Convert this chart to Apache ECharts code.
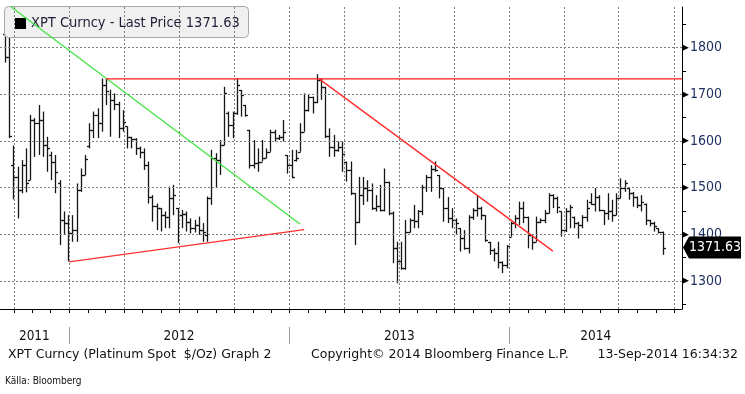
<!DOCTYPE html>
<html><head><meta charset="utf-8">
<script src="https://cdn.jsdelivr.net/npm/echarts@6/dist/echarts.min.js"></script>
<style>html,body{margin:0;padding:0;background:#fff}#c{width:745px;height:394px}</style>
</head><body><div id="c"></div><script>
// ---- data (weekly bars, week ending dates start at firstWeek) ----
const firstWeek = '2011-09-16';
const opens = [
1830,1780,1549,1523,1495,1549,1516,1645,1638,1645,
1591,1570,1555,1509,1430,1424,1402,1410,1495,1527,
1590,1624,1656,1638,1720,1700,1688,1680,1627,1631,
1609,1605,1584,1577,1549,1480,1460,1456,1441,1438,
1477,1456,1441,1443,1427,1413,1420,1409,1398,1477,
1563,1560,1591,1660,1634,1659,1709,1677,1624,1549,
1552,1556,1563,1577,1620,1606,1609,1570,1549,1560,
1577,1620,1666,1695,1684,1731,1716,1611,1588,1581,
1588,1556,1538,1488,1427,1484,1499,1495,1456,1460,
1452,1513,1445,1370,1342,1327,1406,1431,1428,1449,
1502,1523,1541,1527,1499,1456,1434,1430,1413,1392,
1370,1438,1452,1456,1441,1384,1367,1359,1340,1335,
1395,1424,1434,1456,1438,1399,1384,1427,1431,1445,
1484,1477,1449,1409,1449,1438,1424,1420,1438,1470,
1466,1481,1452,1445,1449,1441,1477,1499,1499,1488,
1481,1463,1466,1430,1424,1413,1406];
const highs = [
1870,1822,1590,1545,1559,1584,1656,1649,1677,1663,
1609,1577,1570,1516,1449,1441,1441,1509,1541,1570,
1638,1663,1670,1734,1734,1710,1702,1684,1666,1631,
1609,1606,1588,1584,1556,1484,1466,1456,1449,1502,
1506,1456,1452,1449,1434,1431,1438,1424,1481,1581,
1574,1602,1716,1663,1663,1734,1709,1677,1624,1602,
1584,1602,1584,1624,1624,1613,1645,1570,1581,1581,
1638,1702,1699,1695,1743,1734,1716,1627,1613,1599,
1599,1556,1556,1488,1523,1523,1516,1509,1484,1506,
1541,1513,1449,1384,1384,1431,1434,1463,1452,1506,
1527,1548,1556,1527,1499,1480,1456,1434,1413,1409,
1441,1456,1484,1459,1441,1384,1370,1384,1342,1377,
1427,1441,1470,1470,1438,1399,1438,1434,1452,1488,
1486,1481,1449,1456,1463,1438,1427,1441,1474,1488,
1499,1484,1452,1488,1474,1488,1520,1516,1499,1491,
1481,1484,1466,1431,1427,1413,1406];
const lows = [
1768,1606,1475,1434,1488,1490,1516,1566,1570,1566,
1534,1516,1488,1377,1399,1342,1384,1384,1491,1527,
1584,1606,1606,1620,1677,1609,1666,1606,1620,1584,
1584,1570,1563,1538,1466,1427,1409,1406,1413,1413,
1441,1381,1413,1406,1402,1404,1399,1384,1384,1463,
1499,1527,1591,1609,1606,1656,1652,1652,1541,1541,
1534,1556,1563,1577,1599,1602,1599,1530,1520,1556,
1577,1620,1663,1659,1681,1688,1606,1566,1566,1577,
1534,1513,1484,1377,1424,1463,1470,1452,1449,1449,
1449,1441,1338,1295,1324,1324,1404,1413,1413,1441,
1491,1491,1534,1477,1427,1424,1413,1399,1363,1367,
1359,1431,1438,1431,1384,1356,1342,1327,1317,1327,
1395,1413,1420,1424,1370,1367,1384,1424,1424,1445,
1456,1445,1395,1405,1413,1413,1391,1413,1427,1463,
1449,1449,1420,1431,1427,1441,1477,1491,1474,1459,
1456,1449,1420,1417,1406,1402,1356];
const closes = [
1780,1610,1523,1495,1549,1510,1645,1638,1645,1591,
1584,1555,1534,1430,1424,1402,1410,1495,1527,1562,
1624,1656,1638,1720,1706,1688,1680,1627,1641,1609,
1605,1584,1577,1549,1480,1460,1456,1441,1438,1477,
1484,1441,1443,1427,1413,1420,1409,1405,1477,1563,
1560,1591,1702,1634,1659,1720,1699,1656,1549,1552,
1556,1563,1577,1620,1606,1609,1620,1549,1522,1563,
1620,1666,1695,1684,1731,1716,1611,1588,1581,1588,
1573,1538,1488,1427,1484,1499,1495,1456,1460,1452,
1513,1445,1370,1342,1327,1406,1431,1428,1449,1502,
1523,1541,1538,1499,1456,1434,1430,1424,1392,1370,
1438,1452,1456,1441,1388,1367,1359,1340,1335,1374,
1424,1434,1456,1438,1399,1384,1427,1431,1445,1484,
1477,1459,1409,1449,1459,1424,1420,1438,1456,1466,
1481,1452,1445,1449,1441,1477,1499,1509,1488,1481,
1463,1470,1430,1424,1417,1406,1371.63];
const lastPrice = 1371.63;

// trend lines drawn on the chart [date, price]
const greenLine   = [['2011-09-24T12:00:00Z', 1889], ['2013-01-18T00:00:00Z', 1422]];
const supportLine = [['2011-12-31T14:00:00Z', 1341], ['2013-01-25T00:00:00Z', 1410]];
const resistLine  = [['2012-03-02T00:00:00Z', 1733], ['2014-10-14T07:00:00Z', 1733]];
const downLine    = [['2013-02-18T19:00:00Z', 1733], ['2014-03-14T00:00:00Z', 1364]];

// axes
const yTicks = [1300, 1400, 1500, 1600, 1700, 1800];
const yMinorTicks = [1250, 1350, 1450, 1550, 1650, 1750, 1850];
const yearLabels = ['2011', '2012', '2013', '2014'];
const yearLabelDates = ['2011-11-04', '2012-07-01', '2013-07-02', '2014-05-24'];
const yearBreaks = ['2012-01-01', '2013-01-01', '2014-01-01'];
const quarterStarts = ['2011-10-01','2012-01-01','2012-04-01','2012-07-01','2012-10-01',
  '2013-01-01','2013-04-01','2013-07-01','2013-10-01','2014-01-01','2014-04-01','2014-07-01','2014-10-01'];
const xMin = Date.parse('2011-09-07T22:30:00Z');
const xMax = Date.parse('2014-10-14T07:00:00Z');

// ---- build ----
const DAY = 86400000;
const t0 = Date.parse(firstWeek);
const ohlc = opens.map((o, i) => [t0 + i * 7 * DAY, o, highs[i], lows[i], closes[i]]);
const monthTicks = [];
for (let y = 2011, m = 9; y < 2014 || (y === 2014 && m <= 9); m++) {
  if (m > 11) { m = 0; y++; }
  monthTicks.push(Date.UTC(y, m, 1));
}
const toPts = arr => arr.map(p => [Date.parse(p[0]), p[1]]);
const FONT = '"DejaVu Sans Condensed", "DejaVu Sans", sans-serif';
const FONT2 = '"DejaVu Sans", sans-serif';

function renderBar(params, api) {
  const t = api.value(0);
  const pO = api.coord([t, api.value(1)]);
  const pH = api.coord([t, api.value(2)]);
  const pL = api.coord([t, api.value(3)]);
  const pC = api.coord([t, api.value(4)]);
  const x = Math.round(pH[0]) + 0.5;
  const yo = Math.round(pO[1]) + 0.5, yc = Math.round(pC[1]) + 0.5;
  const st = { stroke: '#151515', lineWidth: 1.3 };
  return { type: 'group', children: [
    { type: 'line', shape: { x1: x, y1: pH[1], x2: x, y2: pL[1] }, style: st },
    { type: 'line', shape: { x1: x - 2.5, y1: yo, x2: x, y2: yo }, style: st },
    { type: 'line', shape: { x1: x, y1: yc, x2: x + 2.5, y2: yc }, style: st }
  ]};
}

function trend(data, color, w) {
  return { type: 'line', data: toPts(data), showSymbol: false, symbol: 'none', silent: true, clip: true,
    lineStyle: { color: color, width: w }, z: 10, animation: false };
}

const chart = echarts.init(document.getElementById('c'), null, { renderer: 'canvas' });
const option = {
  animation: false,
  backgroundColor: '#fff',
  grid: { left: 0, right: 63, top: 7, bottom: 85, containLabel: false, outerBoundsMode: 'none' },
  xAxis: [
    { type: 'value', min: xMin, max: xMax, scale: true,
      axisLine: { show: true, onZero: false, lineStyle: { color: '#000', width: 1 } },
      axisTick: { show: true, customValues: monthTicks, length: 4, lineStyle: { color: '#000' } },
      axisLabel: { show: false }, splitLine: { show: false } },
    { type: 'value', min: xMin, max: xMax, scale: true, position: 'bottom', offset: 18,
      axisLine: { show: false, onZero: false },
      axisTick: { show: true, customValues: yearBreaks.map(d => Date.parse(d)), length: 17, lineStyle: { color: '#999' } },
      axisLabel: { show: true, customValues: yearLabelDates.map(d => Date.parse(d)), margin: 2,
        formatter: v => { const k = yearLabelDates.findIndex(d => Date.parse(d) === v); return k >= 0 ? yearLabels[k] : ''; },
        color: '#111', fontSize: 13.5, fontFamily: FONT },
      splitLine: { show: false } }
  ],
  yAxis: {
    type: 'value', position: 'right', min: 1240, max: 1887,
    axisLine: { show: true, lineStyle: { color: '#000', width: 1 } },
    axisTick: { show: true, customValues: yMinorTicks, length: 4, lineStyle: { color: '#000' } },
    axisLabel: { show: true, customValues: yTicks, margin: 0,
      formatter: v => '{t|\u25B6}{v|' + v + '}',
      rich: { t: { fontSize: 9, color: '#000', fontFamily: 'DejaVu Sans' },
              v: { fontSize: 14, color: '#1c2f5e', fontFamily: FONT, padding: [0, 0, 0, 1] } } },
    splitLine: { show: false }
  },
  series: [
    { type: 'line', data: [], silent: true, z: 1,
      markLine: { silent: true, symbol: ['none', 'none'], label: { show: false }, animation: false,
        lineStyle: { color: '#7f7f7f', type: [2, 2], width: 1 },
        data: quarterStarts.map(d => ({ xAxis: Date.parse(d) })).concat(yTicks.map(v => ({ yAxis: v }))) } },
    { type: 'custom', name: 'XPT', renderItem: renderBar, data: ohlc, encode: { x: 0, y: [1, 2, 3, 4] },
      clip: true, silent: true, z: 2 },
    trend(greenLine, '#3fe43f', 1.3),
    trend(supportLine, '#ff3030', 1.3),
    trend(resistLine, '#ff1a1a', 1.3),
    trend(downLine, '#ff2a2a', 1.3)
  ],
  graphic: [
    { id: 'lgBox', type: 'rect', z: 5, shape: { x: 4.5, y: 6.5, width: 244, height: 31, r: 4 },
      style: { fill: '#f0f0f0', stroke: '#a8a8a8', lineWidth: 1 } },
    { id: 'lgSq', type: 'rect', z: 6, shape: { x: 15, y: 18, width: 11, height: 11 }, style: { fill: '#000' } },
    { id: 'lgTx', type: 'text', z: 6, x: 31, y: 23.5,
      style: { text: 'XPT Curncy - Last Price ' + lastPrice.toFixed(2), fill: '#1e1e36',
        font: '14.5px ' + FONT, verticalAlign: 'middle' } },
    { id: 'f1', type: 'text', x: 8, y: 355, style: { text: 'XPT Curncy (Platinum Spot  $/Oz) Graph 2', fill: '#111', font: '12.5px ' + FONT2, verticalAlign: 'middle' } },
    { id: 'f2', type: 'text', x: 311, y: 355, style: { text: 'Copyright\u00A9 2014 Bloomberg Finance L.P.', fill: '#111', font: '12.5px ' + FONT2, verticalAlign: 'middle' } },
    { id: 'f3', type: 'text', x: 738, y: 355, style: { text: '13-Sep-2014 16:34:32', fill: '#111', font: '12.5px ' + FONT2, align: 'right', verticalAlign: 'middle' } },
    { id: 'f4', type: 'text', x: 5, y: 381, style: { text: 'K\u00E4lla: Bloomberg', fill: '#111', font: '10px "Liberation Sans Narrow", ' + FONT, verticalAlign: 'middle' } }
  ]
};
chart.setOption(option);

const ax = chart.convertToPixel({ xAxisIndex: 0 }, xMax);
const ty = chart.convertToPixel({ yAxisIndex: 0 }, lastPrice);
chart.setOption({ graphic: [
  { id: 'tag', type: 'polygon', z: 20,
    shape: { points: [[ax + 1, ty], [ax + 7, ty - 11], [741, ty - 11], [741, ty + 11], [ax + 7, ty + 11]] },
    style: { fill: '#000' } },
  { id: 'tagTx', type: 'text', z: 21, x: 715, y: ty,
    style: { text: lastPrice.toFixed(2), fill: '#fff', font: '14px ' + FONT, align: 'center', verticalAlign: 'middle' } }
]});
</script></body></html>
